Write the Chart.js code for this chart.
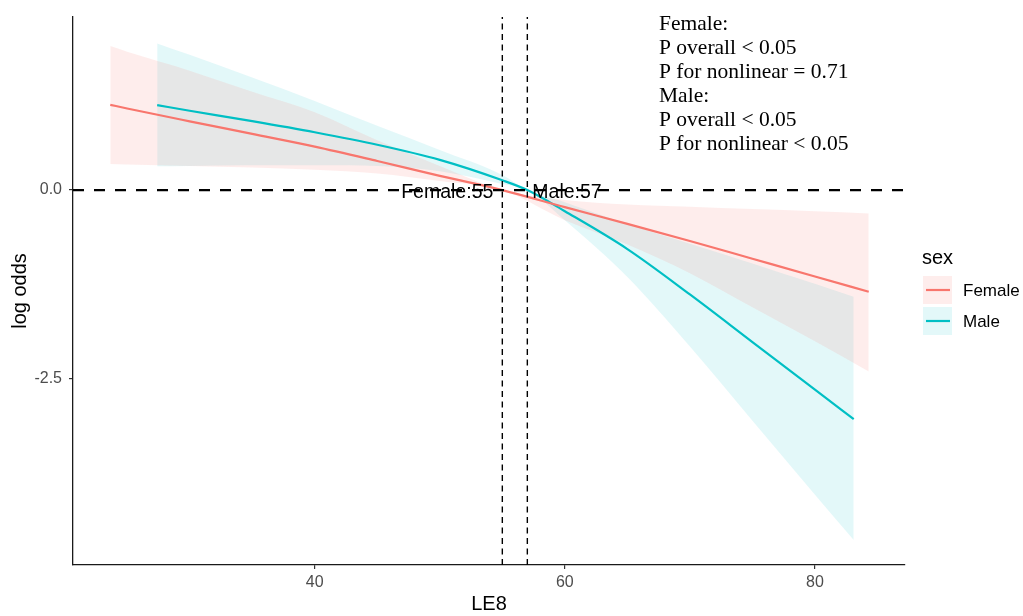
<!DOCTYPE html>
<html>
<head>
<meta charset="utf-8">
<script src="https://cdn.jsdelivr.net/npm/chart.js@4.4.1/dist/chart.umd.min.js"></script>
<style>
  html,body{margin:0;padding:0;background:#fff;}
  #wrap{width:1023px;height:616px;position:relative;}
</style>
</head>
<body>
<div id="wrap"><canvas id="rcs"></canvas></div>
<script>
'use strict';

// ── data ──────────────────────────────────────────────────────────────────
const femaleX     = [23.65, 25, 30, 35, 40, 45, 50, 55, 60, 65, 70, 75, 80, 84.3];
const femaleFit   = [1.128, 1.08, 0.91, 0.743, 0.575, 0.385, 0.188, 0, -0.226, -0.447, -0.673, -0.908, -1.143, -1.345];
const femaleUpper = [1.905, 1.83, 1.58, 1.30, 1.03, 0.66, 0.32, 0, -0.13, -0.19, -0.22, -0.25, -0.28, -0.31];
const femaleLower = [0.344, 0.34, 0.32, 0.30, 0.27, 0.22, 0.12, 0, -0.40, -0.72, -1.10, -1.55, -2.00, -2.40];

const maleX     = [27.4, 30, 35, 40, 45, 50, 55, 57, 60, 65, 70, 75, 80, 83.1];
const maleFit   = [1.124, 1.05, 0.912, 0.765, 0.60, 0.40, 0.13, 0, -0.28, -0.78, -1.38, -2.01, -2.64, -3.03];
const maleUpper = [1.94, 1.79, 1.49, 1.18, 0.85, 0.53, 0.2, 0, -0.16, -0.45, -0.71, -0.97, -1.24, -1.41];
const maleLower = [0.317, 0.32, 0.33, 0.33, 0.32, 0.25, 0.08, 0, -0.40, -1.15, -2.07, -3.05, -4.03, -4.63];

const refX      = [55, 57];                 // vertical dashed lines
const refLabels = ['Female:55', 'Male:57'];
const xTicks    = [40, 60, 80];
const yTicks    = [0, -2.5];
const xRange    = [20.67, 87.2];
const yRange    = [-4.96, 2.29];
const statLines = ['Female:', 'P overall < 0.05', 'P for nonlinear = 0.71', 'Male:', 'P overall < 0.05', 'P for nonlinear < 0.05'];
const groups    = ['Female', 'Male'];

// ── colours ──────────────────────────────────────────────────────────────
const col = {
  female:'#F8766D', femaleA:'rgba(248,118,109,0.13)',
  male:'#00BFC4',   maleA:'rgba(0,191,196,0.11)',
  tick:'#4D4D4D',   axis:'#1a1a1a'
};
const sans = "'Liberation Sans', Arial, sans-serif";
const serif = "'Liberation Serif', 'Times New Roman', serif";

const pts = (xs, ys) => xs.map((x, i) => ({x, y: ys[i]}));

function band(xs, up, lo, fill){
  return [
    {data:pts(xs, up), borderWidth:0, pointRadius:0, backgroundColor:fill, fill:'+1', order:3, cubicInterpolationMode:'monotone'},
    {data:pts(xs, lo), borderWidth:0, pointRadius:0, backgroundColor:fill, fill:false, order:3, cubicInterpolationMode:'monotone'}
  ];
}
function curve(xs, ys, c){
  return {data:pts(xs, ys), borderColor:c, borderWidth:2.2, pointRadius:0, fill:false, order:2, cubicInterpolationMode:'monotone'};
}

const datasets = [
  ...band(femaleX, femaleUpper, femaleLower, col.femaleA),
  ...band(maleX, maleUpper, maleLower, col.maleA),
  curve(femaleX, femaleFit, col.female),
  curve(maleX, maleFit, col.male),
  // reference lines
  {data:[{x:xRange[0], y:0}, {x:xRange[1], y:0}], borderColor:'#000', borderWidth:2.4, borderDash:[11,10], pointRadius:0, fill:false, order:1},
  ...refX.map(v => ({data:[{x:v, y:yRange[0]}, {x:v, y:yRange[1]}], borderColor:'#000', borderWidth:1.4, borderDash:[6,4.5], pointRadius:0, fill:false, order:1}))
];

// ── annotation texts + legend ───────────────────────────────────────────
const notes = {
  id:'notes',
  afterDraw(chart){
    const {ctx, scales:{x, y}} = chart;
    ctx.save();
    // reference labels
    ctx.fillStyle = '#000';
    ctx.font = `19.5px ${sans}`;
    ctx.textBaseline = 'middle';
    ctx.textAlign = 'right';
    ctx.fillText(refLabels[0], x.getPixelForValue(refX[0]) - 9, y.getPixelForValue(0) + 3);
    ctx.textAlign = 'left';
    ctx.fillText(refLabels[1], x.getPixelForValue(refX[1]) + 5, y.getPixelForValue(0) + 3);

    // stats block
    ctx.font = `21.5px ${serif}`;
    ctx.textBaseline = 'alphabetic';
    statLines.forEach((t, i) => ctx.fillText(t, 659, 30 + i * 24));

    // legend
    ctx.font = `20px ${sans}`;
    ctx.textBaseline = 'middle';
    ctx.fillText('sex', 922, 258);
    const keys = [[col.femaleA, col.female], [col.maleA, col.male]];
    ctx.font = `17px ${sans}`;
    groups.forEach((g, i) => {
      const top = 276 + i * 31;
      ctx.fillStyle = keys[i][0];
      ctx.fillRect(923, top, 29, 28);
      ctx.strokeStyle = keys[i][1];
      ctx.lineWidth = 2.2;
      ctx.beginPath(); ctx.moveTo(926, top + 14); ctx.lineTo(950, top + 14); ctx.stroke();
      ctx.fillStyle = '#000';
      ctx.fillText(g, 963, top + 15);
    });
    ctx.restore();
  }
};

new Chart(document.getElementById('rcs').getContext('2d'), {
  type:'line',
  data:{datasets},
  options:{
    responsive:true, maintainAspectRatio:false, animation:false,
    layout:{padding:{left:0, right:118, top:17, bottom:0}},
    plugins:{legend:{display:false}, tooltip:{enabled:false}},
    scales:{
      x:{
        type:'linear', min:xRange[0], max:xRange[1],
        afterBuildTicks:s => { s.ticks = xTicks.map(v => ({value:v})); },
        afterFit:s => { s.height = 51; },
        grid:{drawOnChartArea:false, drawTicks:true, tickLength:4, color:'#333', lineWidth:1.2},
        border:{display:true, color:col.axis, width:1.3},
        ticks:{color:col.tick, font:{family:sans, size:16}, padding:4, maxRotation:0},
        title:{display:true, text:'LE8', color:'#000', font:{family:sans, size:20}, padding:{top:0, bottom:0}}
      },
      y:{
        type:'linear', min:yRange[0], max:yRange[1],
        afterBuildTicks:s => { s.ticks = yTicks.map(v => ({value:v})); },
        afterFit:s => { s.width = 73; },
        grid:{drawOnChartArea:false, drawTicks:true, tickLength:4, color:'#333', lineWidth:1.2},
        border:{display:true, color:col.axis, width:1.3},
        ticks:{color:col.tick, font:{family:sans, size:16}, padding:7, callback:v => Number(v).toFixed(1)},
        title:{display:true, text:'log odds', color:'#000', font:{family:sans, size:20}, padding:{top:8, bottom:0}}
      }
    }
  },
  plugins:[notes]
});
</script>
</body>
</html>
